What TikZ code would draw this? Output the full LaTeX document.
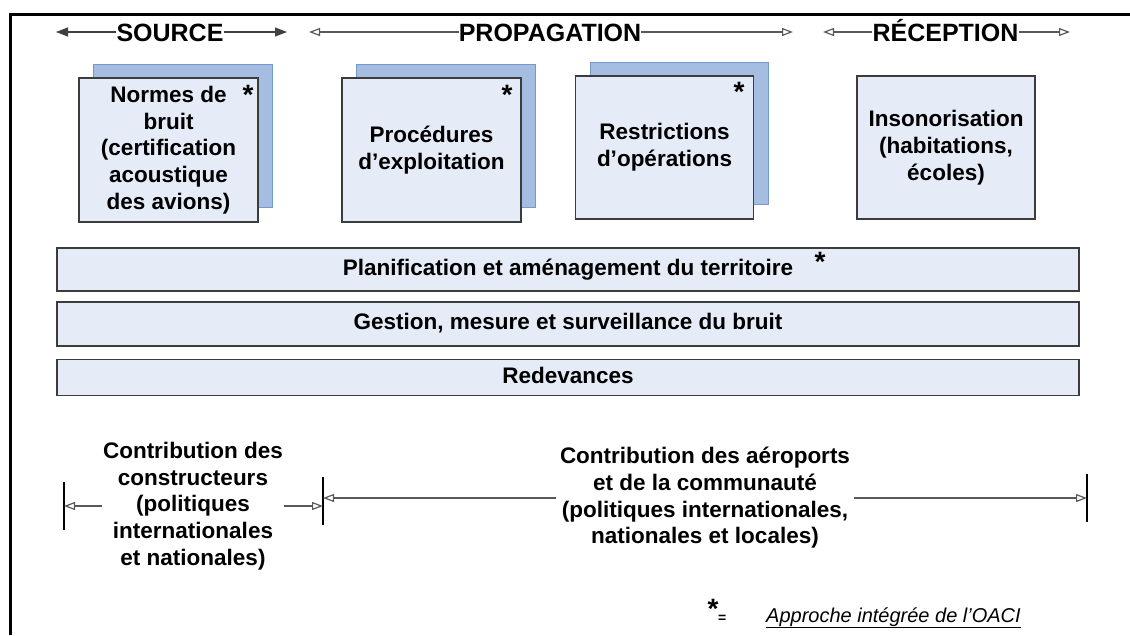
\documentclass[tikz,border=0pt]{standalone}
\usepackage{fontspec}
\setmainfont{Liberation Sans}
\usetikzlibrary{arrows.meta, positioning}
\definecolor{boxfill}{RGB}{230,236,247}
\definecolor{backfill}{RGB}{164,189,225}
\definecolor{backline}{RGB}{118,152,206}
\definecolor{edgegray}{RGB}{60,60,60}
\newcommand{\bxfont}{\bfseries\fontsize{22.5}{26.7}\selectfont}
\newcommand{\hdrfont}{\bfseries\fontsize{25}{30}\selectfont}
\newcommand{\astfont}{\bfseries\fontsize{28}{30}\selectfont}
\tikzset{
	x=1pt, y=-1pt,
	frontbox/.style={draw=edgegray, line width=1.5pt, fill=boxfill, minimum width=179pt, minimum height=144pt, align=center, font=\bxfont, inner sep=0pt},
	backbox/.style={draw=backline, line width=1pt, fill=backfill, minimum width=179pt, minimum height=143pt, inner sep=0pt},
	band/.style={draw=edgegray, line width=1.5pt, fill=boxfill, minimum width=1022pt, font=\bxfont, text height=16pt, text depth=5pt, inner sep=0pt},
	header/.style={font=\hdrfont, inner sep=0pt, text height=18pt, text depth=0pt},
	starmark/.style={font=\astfont, inner sep=0pt, anchor=north},
	filledarrow/.style={-{Triangle[length=12pt,width=9pt]}, draw=black!75, line width=1.2pt},
	openarrow/.style={-{Triangle[open,length=11pt,width=8pt]}, draw=black!65, line width=1.2pt},
	tickline/.style={line width=1.5pt},
	contrib/.style={font=\bxfont, align=center, inner sep=1pt}
}

\begin{document}
\begin{tikzpicture}
	\useasboundingbox (0,0) rectangle (1130,635);
	\draw[line width=3pt] (10.5,635) -- (10.5,14) -- (1130,14);
	
	% titres
	\node[header] (source) at (170,32) {SOURCE};
	\node[header] (propag) at (550,32) {PROPAGATION};
	\node[header] (recep) at (945.5,32) {RÉCEPTION};
	\coordinate (sourceL) at (56,32);
	\coordinate (sourceR) at (287,32);
	\coordinate (propagL) at (309,32);
	\coordinate (propagR) at (793,32);
	\coordinate (recepL) at (823,32);
	\coordinate (recepR) at (1070,32);
	\draw[filledarrow] (source.west) -- (sourceL);
	\draw[filledarrow] (source.east) -- (sourceR);
	\draw[openarrow] (propag.west) -- (propagL);
	\draw[openarrow] (propag.east) -- (propagR);
	\draw[openarrow] (recep.west) -- (recepL);
	\draw[openarrow] (recep.east) -- (recepR);
	
	% mesures
	\node[backbox] (normesbg) at (182.5,135.5) {};
	\node[frontbox] (normes) at (168.5,150) {Normes de\\bruit\\(certification\\acoustique\\des avions)};
	\node[backbox] (procbg) at (445.5,135.5) {};
	\node[frontbox] (proc) at (431.5,150) {Procédures\\d’exploitation};
	\node[backbox, minimum width=178pt, minimum height=142pt] (restrbg) at (679,133) {};
	\node[frontbox, minimum width=178pt, minimum height=143pt] (restr) at (664.5,147.5) {Restrictions\\d’opérations};
	\node[frontbox, minimum width=178pt, minimum height=143pt] (insono) at (946,147.5) {Insonorisation\\(habitations,\\écoles)};
	\node[starmark] at (248,85) {*};
	\node[starmark] at (507,85) {*};
	\node[starmark] at (739,82) {*};
	
	\node[band, minimum height=43pt] (planif) at (568,269.5) {Planification et aménagement du territoire};
	\node[band, minimum height=44pt] (gestion) at (568,324) {Gestion, mesure et surveillance du bruit};
	\node[band, minimum height=36pt] (redev) at (568,377.5) {Redevances};
	\node[starmark] at (820,252) {*};
	
	% contributions
	\node[contrib] (constr) at (193,506) {Contribution des\\constructeurs\\(politiques\\internationales\\et nationales)};
	\node[contrib, inner sep=4pt] (aerop) at (705,498) {Contribution des aéroports\\et de la communauté\\(politiques internationales,\\nationales et locales)};
	\coordinate (constrL) at (64,506);
	\coordinate (constrR) at (323,506);
	\coordinate (aeropL) at (323,498);
	\coordinate (aeropR) at (1087,498);
	\draw[tickline] (64,482) -- (64,530);
	\draw[tickline] (323,477) -- (323,525);
	\draw[tickline] (1087,474) -- (1087,522);
	\draw[openarrow] (constr.west) -- (constrL);
	\draw[openarrow] (constr.east) -- (constrR);
	\draw[openarrow] (aerop.west) -- (aeropL);
	\draw[openarrow] (aerop.east) -- (aeropR);
	
	% legende
	\node[starmark] (fnstar) at (713,599) {*};
	\node[font=\bfseries\fontsize{14}{14}\selectfont, anchor=base west, inner sep=0pt] (fneq) at (718,622) {=};
	\node[font=\itshape\fontsize{20}{24}\selectfont, anchor=base west, inner sep=0pt] (fntext) at (766,622) {\underline{Approche intégrée de l’OACI}};
\end{tikzpicture}
\end{document}
